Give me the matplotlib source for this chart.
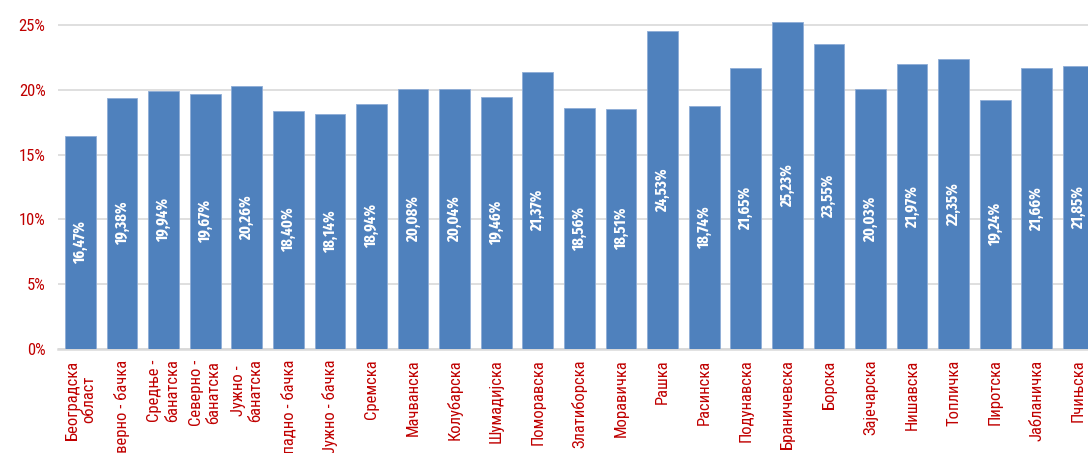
import matplotlib.pyplot as plt
from matplotlib.ticker import FuncFormatter

# districts (Пчињска is cut off at the right edge in the original)
districts = ['Београдска\nобласт', 'Северно - бачка', 'Средње -\nбанатска', 'Северно -\nбанатска',
             'Јужно -\nбанатска', 'Западно - бачка', 'Јужно - бачка', 'Сремска', 'Мачванска',
             'Колубарска', 'Шумадијска', 'Поморавска', 'Златиборска', 'Моравичка', 'Рашка',
             'Расинска', 'Подунавска', 'Браничевска', 'Борска', 'Зајечарска', 'Нишавска',
             'Топличка', 'Пиротска', 'Јабланичка', 'Пчињска']
shares = [16.47, 19.38, 19.94, 19.67, 20.26, 18.40, 18.14, 18.94, 20.08, 20.04, 19.46, 21.37,
          18.56, 18.51, 24.53, 18.74, 21.65, 25.23, 23.55, 20.03, 21.97, 22.35, 19.24, 21.66, 21.85]
yticks = [0, 5, 10, 15, 20, 25]

narrow = ['Roboto Condensed', 'PT Sans Narrow', 'DejaVu Sans']
bold_narrow = ['Fira Sans Extra Condensed', 'Roboto Condensed', 'DejaVu Sans']
red = '#C00000'

fig = plt.figure(figsize=(10.88, 4.53), dpi=100)
# axes run past the right edge so the last bar is clipped like the reference
ax = fig.add_axes([58 / 1088, 104 / 453, 1062 / 1088, 337 / 453])

x = list(range(len(shares)))
bars = ax.bar(x, shares, width=0.74, color='#4F81BD', edgecolor='#8EACD6', linewidth=0.6, zorder=3)

for xi, v in zip(x, shares):
    ax.text(xi, v / 2, f'{v:.2f}%'.replace('.', ','), rotation=90, ha='center', va='center',
            color='white', fontsize=11.5, fontweight='bold', family=bold_narrow, zorder=4)

ax.set_xlim(-0.54, 25.0)
ax.set_ylim(0, 26)
ax.set_yticks(yticks)
ax.yaxis.set_major_formatter(FuncFormatter(lambda v, p: f'{v:.0f}%'))
ax.yaxis.grid(True, color='#D9D9D9', linewidth=1.2, zorder=0)

ax.set_xticks(x)
ax.set_xticklabels(districts, rotation=90, multialignment='center')
for lab in ax.get_xticklabels() + ax.get_yticklabels():
    lab.set_family(narrow)
    lab.set_color(red)
    lab.set_fontsize(12)
ax.tick_params(axis='x', length=0, pad=7.5)
ax.tick_params(axis='y', length=0, pad=9)

for s in ['top', 'right', 'left']:
    ax.spines[s].set_visible(False)
ax.spines['bottom'].set_color('#D9D9D9')
ax.spines['bottom'].set_linewidth(1.8)

fig.savefig('out.png', dpi=100)
